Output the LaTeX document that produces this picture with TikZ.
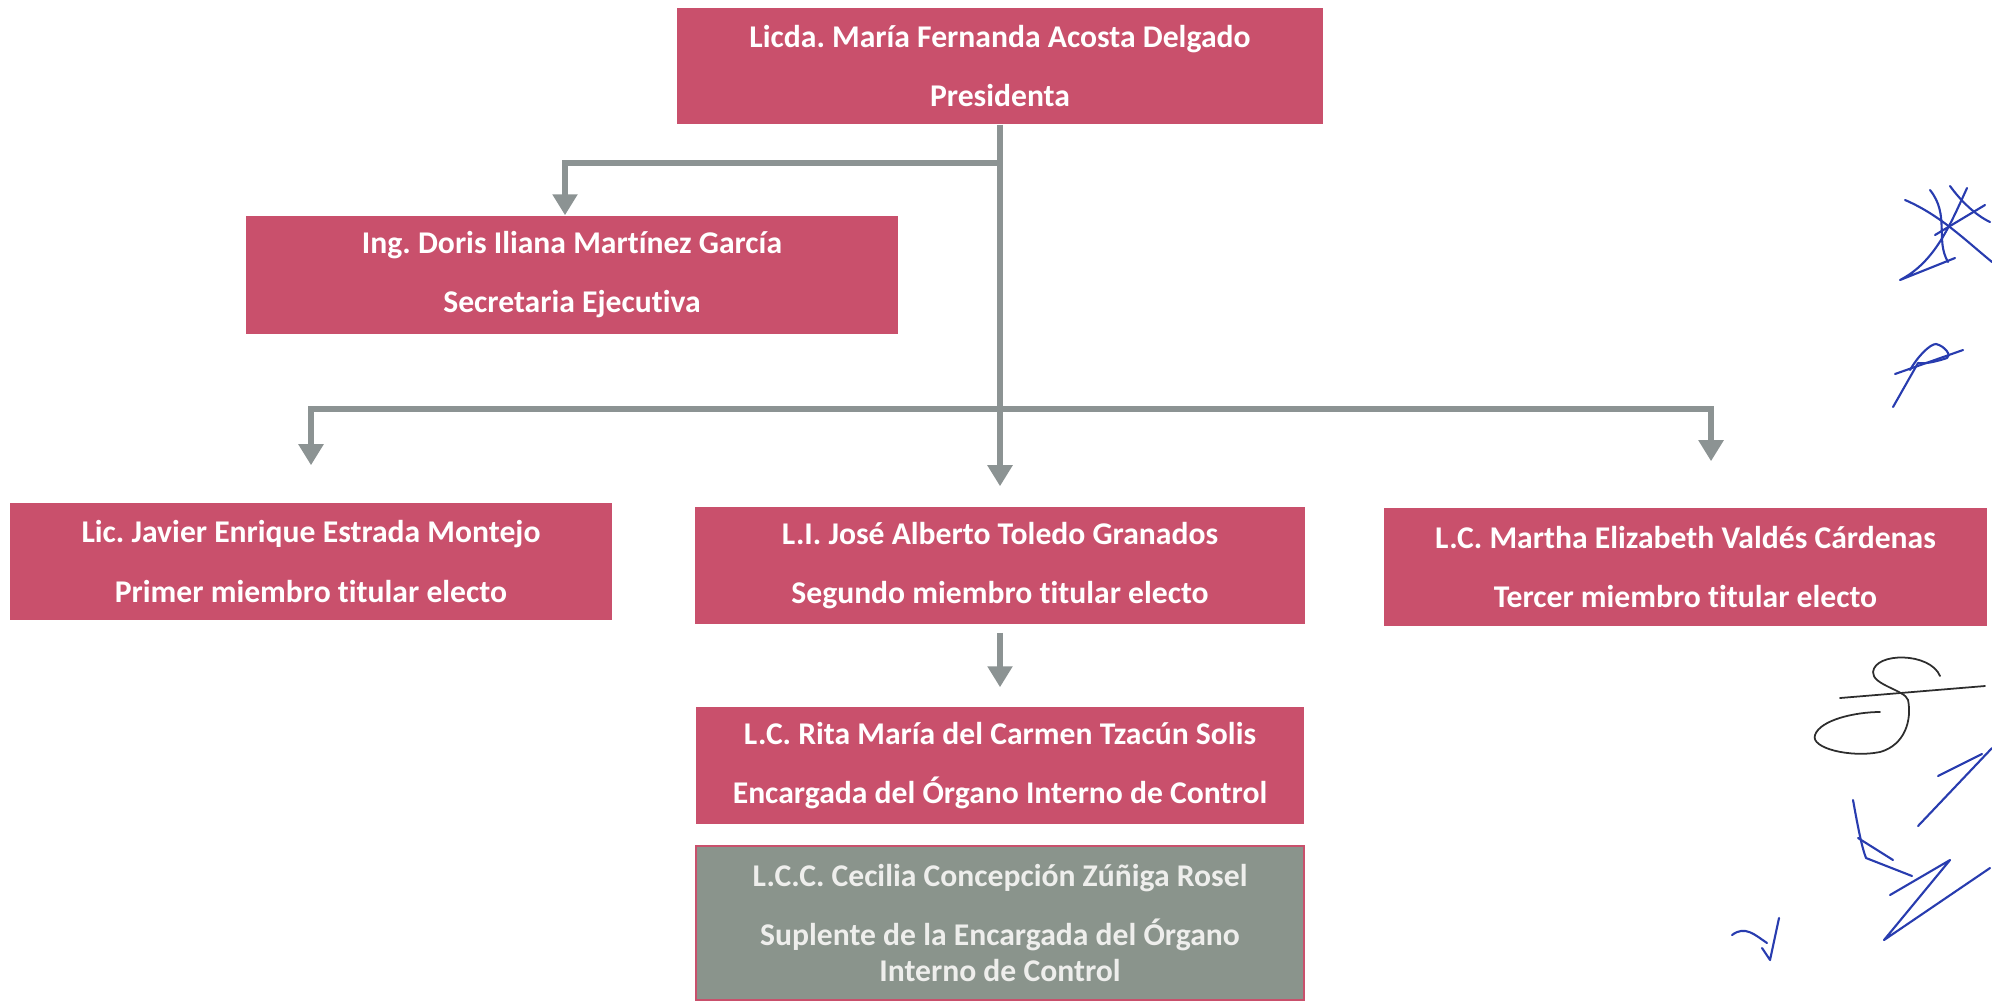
\documentclass[tikz,border=0pt]{standalone}
\usepackage{fontspec}
\setmainfont{Carlito}[Ligatures=NoCommon]
\usetikzlibrary{arrows.meta}
\definecolor{boxred}{RGB}{201,80,108}
\definecolor{boxgray}{RGB}{138,148,140}
\definecolor{conngray}{RGB}{140,147,147}
\definecolor{inkblue}{RGB}{40,60,175}
\definecolor{inkblack}{RGB}{45,45,45}
\frenchspacing
\tikzset{
  orgbox/.style={rectangle, fill=boxred, text=white, align=center, inner sep=0pt,
    font=\frenchspacing\bfseries\fontsize{9}{10.2}\selectfont},
  subbox/.style={orgbox, fill=boxgray, draw=boxred, line width=0.6pt, text={rgb,255:red,238;green,238;blue,236}},
  conn/.style={draw=conngray, line width=1.7pt},
  arr/.style={conn, -{Triangle[width=0.24cm,length=0.21cm]}},
  ink/.style={draw=inkblue, line width=0.6pt, line cap=round, line join=round},
  inkk/.style={draw=inkblack, line width=0.5pt, line cap=round, line join=round}
}
\begin{document}
\begin{tikzpicture}[x=0.01cm,y=-0.01cm]
\useasboundingbox (0,0) rectangle (1992,1000);

\node[orgbox, minimum width=6.46cm, minimum height=1.16cm] (pres) at (1000,66)
  {Licda. María Fernanda Acosta Delgado\\[6.6pt] Presidenta};
\node[orgbox, minimum width=6.52cm, minimum height=1.18cm] (sec) at (572,275)
  {Ing. Doris Iliana Martínez García\\[6.6pt] Secretaria Ejecutiva};
\node[orgbox, minimum width=6.02cm, minimum height=1.17cm] (prim) at (311,561.5)
  {Lic. Javier Enrique Estrada Montejo\\[6.6pt] Primer miembro titular electo};
\node[orgbox, minimum width=6.09cm, minimum height=1.17cm] (seg) at (1000,565.5)
  {L.I. José Alberto Toledo Granados\\[6.6pt] Segundo miembro titular electo};
\node[orgbox, minimum width=6.03cm, minimum height=1.18cm] (ter) at (1685.5,567)
  {L.C. Martha Elizabeth Valdés Cárdenas\\[6.6pt] Tercer miembro titular electo};
\node[orgbox, minimum width=6.07cm, minimum height=1.17cm] (rita) at (1000,765.5)
  {L.C. Rita María del Carmen Tzacún Solis\\[6.6pt] Encargada del Órgano Interno de Control};
\node[subbox, minimum width=6.07cm, minimum height=1.54cm] (cec) at (1000,923)
  {L.C.C. Cecilia Concepción Zúñiga Rosel\\[6.6pt] Suplente de la Encargada del Órgano\\ Interno de Control};

\coordinate (j1) at (1000,163);
\coordinate (j2) at (1000,409);

% connectors
\draw[arr] (pres.south) -- ([yshift=0.2cm]seg.north);
\draw[arr] (j1) -| ([xshift=-0.07cm]sec.north);
\draw[arr] (j2) -| ([yshift=0.37cm]prim.north);
\draw[arr] (j2) -| ([xshift=0.255cm,yshift=0.46cm]ter.north);
\draw[arr] ([yshift=-0.08cm]seg.south) -- ([yshift=0.19cm]rita.north);

% signatures
\draw[ink] (1905,200) .. controls (1940,215) and (1965,240) .. (1992,262);
\draw[ink] (1967,188) .. controls (1950,225) and (1935,262) .. (1900,280) -- (1955,258);
\draw[ink] (1930,190) .. controls (1950,215) and (1935,240) .. (1948,262);
\draw[ink] (1935,235) -- (1985,205);
\draw[ink] (1950,186) .. controls (1960,200) and (1975,215) .. (1990,222);

\draw[ink] (1895,374) -- (1963,350);
\draw[ink] (1910,370) .. controls (1918,356) and (1930,344) .. (1936,344) .. controls (1945,346) and (1952,356) .. (1947,358) .. controls (1935,362) and (1925,364) .. (1918,363) -- (1893,407);

\draw[inkk] (1840,698) -- (1985,686);
\draw[inkk] (1940,676) .. controls (1930,652) and (1875,652) .. (1873,672) .. controls (1872,685) and (1905,690) .. (1908,700) .. controls (1912,720) and (1905,745) .. (1880,752) .. controls (1850,758) and (1810,748) .. (1815,735) .. controls (1820,720) and (1855,712) .. (1880,712);

\draw[ink] (1938,776) -- (1982,754);
\draw[ink] (1992,748) -- (1918,826);

\draw[ink] (1853,800) .. controls (1858,828) and (1862,848) .. (1866,858) -- (1912,876);
\draw[ink] (1858,838) -- (1893,860);

\draw[ink] (1890,895) -- (1950,860) -- (1884,940) -- (1990,868);

\draw[ink] (1732,935) .. controls (1745,925) and (1755,935) .. (1767,943);
\draw[ink] (1779,918) -- (1770,960) -- (1762,948);
\end{tikzpicture}
\end{document}
